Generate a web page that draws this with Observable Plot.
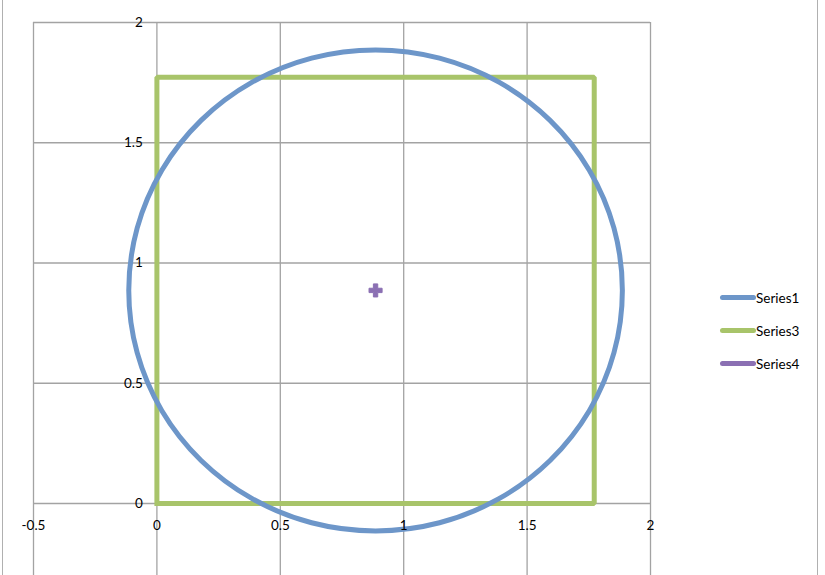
<!DOCTYPE html>
<html>
<head>
<meta charset="utf-8">
<script src="https://cdn.jsdelivr.net/npm/d3@7"></script>
<script src="https://cdn.jsdelivr.net/npm/@observablehq/plot@0.6"></script>
<style>
  body { margin: 0; background: #fff; font-family: Lato, "Open Sans", sans-serif; }
  #wrap { position: relative; width: 825px; height: 575px; overflow: hidden; }
  #frame { position: absolute; left: 2px; top: 0; width: 816px; height: 575px;
           border-left: 1px solid #b0b0b0; border-right: 1px solid #b0b0b0; box-sizing: border-box; }
  #legend { position: absolute; left: 720px; top: 281px; font-size: 13.5px; color: #000; }
  .item { display: flex; align-items: center; height: 33px; }
  .sw { width: 36px; height: 5px; border-radius: 3px; margin-right: 0px; }
</style>
</head>
<body>
<div id="wrap"><div id="frame"></div><div id="chart"></div><div id="legend"></div></div>
<script>
// Series1: circle of radius 1 centred at (0.886, 0.886)
const series1X = [1.886, 1.852, 1.752, 1.593, 1.386, 1.145, 0.886, 0.627, 0.386, 0.179, 0.020, -0.080,
                  -0.114, -0.080, 0.020, 0.179, 0.386, 0.627, 0.886, 1.145, 1.386, 1.593, 1.752, 1.852];
const series1Y = [0.886, 1.145, 1.386, 1.593, 1.752, 1.852, 1.886, 1.852, 1.752, 1.593, 1.386, 1.145,
                  0.886, 0.627, 0.386, 0.179, 0.020, -0.080, -0.114, -0.080, 0.020, 0.179, 0.386, 0.627];
// Series3: square of side sqrt(pi)
const series3X = [0, 0, 1.772, 1.772, 0];
const series3Y = [0, 1.772, 1.772, 0, 0];
// Series4: centre point
const series4X = [0.886];
const series4Y = [0.886];

const xTicks = [-0.5, 0, 0.5, 1, 1.5, 2];
const yTicks = [0, 0.5, 1, 1.5, 2];
const seriesNames = ["Series1", "Series3", "Series4"];
const seriesColors = ["#6d96c9", "#a8c46a", "#8b70b3"];

const circle = series1X.map((x, i) => ({x, y: series1Y[i]}));
const square = series3X.map((x, i) => ({x, y: series3Y[i]}));
const center = series4X.map((x, i) => ({x, y: series4Y[i]}));

const yBottom = -0.3; // vertical gridlines run to the bottom edge of the picture
const fmt = d => String(d);

const chart = Plot.plot({
  width: 825,
  height: 575,
  marginLeft: 33,
  marginRight: 175,
  marginTop: 22,
  marginBottom: 72,
  x: {domain: [-0.5, 2], axis: null},
  y: {domain: [0, 2], axis: null},
  style: {fontFamily: "Lato, 'Open Sans', sans-serif", fontSize: "13.5px", color: "#000", background: "transparent", overflow: "visible"},
  marks: [
    Plot.ruleX(xTicks, {x: d => d, y1: 2, y2: yBottom, stroke: "#a3a3a3", strokeWidth: 1.3, strokeOpacity: 1}),
    Plot.ruleY(yTicks, {y: d => d, x1: -0.5, x2: 2, stroke: "#a3a3a3", strokeWidth: 1.3, strokeOpacity: 1}),
    Plot.line(square, {x: "x", y: "y", stroke: seriesColors[1], strokeWidth: 5, strokeLinejoin: "miter", strokeLinecap: "square"}),
    Plot.line(circle, {x: "x", y: "y", stroke: seriesColors[0], strokeWidth: 5, curve: "catmull-rom-closed"}),
    Plot.dot(center, {x: "x", y: "y", symbol: "cross", r: 5.5, fill: seriesColors[2], stroke: seriesColors[2], strokeWidth: 1}),
    Plot.text(yTicks, {x: 0, y: d => d, text: fmt, textAnchor: "end", dx: -14, fill: "#000", fontSize: 13.5}),
    Plot.text(xTicks, {x: d => d, y: 0, text: fmt, textAnchor: "middle", dy: 22, fill: "#000", fontSize: 13.5})
  ],
  clip: false
});
document.getElementById("chart").appendChild(chart);

const legend = document.getElementById("legend");
seriesNames.forEach((name, i) => {
  const item = document.createElement("div");
  item.className = "item";
  const sw = document.createElement("div");
  sw.className = "sw";
  sw.style.background = seriesColors[i];
  const label = document.createElement("span");
  label.textContent = name;
  item.appendChild(sw);
  item.appendChild(label);
  legend.appendChild(item);
});
</script>
</body>
</html>
